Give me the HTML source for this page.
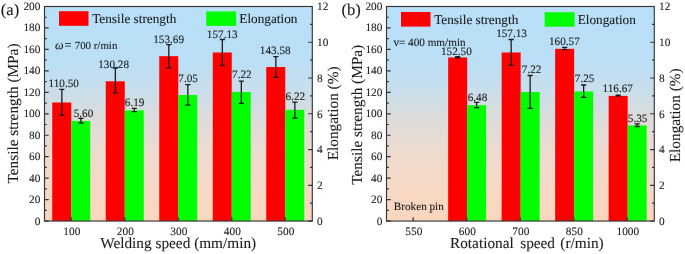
<!DOCTYPE html>
<html><head><meta charset="utf-8"><style>
html,body{margin:0;padding:0;background:#fff;}
body{width:685px;height:254px;overflow:hidden;}
svg{display:block;will-change:transform;}
text{text-rendering:geometricPrecision;}
text{font-family:'Liberation Serif', serif;fill:#1c1c1c;stroke:#1c1c1c;stroke-width:0.1px;}
.tk{font-size:11.3px;}
.vl{font-size:11.2px;}
.at{font-size:15.3px;}
.lg{font-size:13.25px;}
.pl{font-size:16.6px;}
</style></head><body>
<svg width="685" height="254" viewBox="0 0 685 254">
<defs><linearGradient id="bg" x1="0" y1="0" x2="0" y2="1"><stop offset="0.0" stop-color="rgb(184,224,249)"/><stop offset="0.25" stop-color="rgb(186,223,246)"/><stop offset="0.39" stop-color="rgb(200,222,236)"/><stop offset="0.5" stop-color="rgb(217,220,221)"/><stop offset="0.58" stop-color="rgb(228,219,214)"/><stop offset="0.72" stop-color="rgb(240,218,205)"/><stop offset="0.9" stop-color="rgb(248,215,194)"/><stop offset="1.0" stop-color="rgb(250,214,190)"/></linearGradient></defs>
<rect x="44.5" y="6.5" width="267.8" height="214.55" fill="url(#bg)"/>
<rect x="52.25" y="102.51" width="19.0" height="118.54" fill="#ff0000"/>
<rect x="71.25" y="120.93" width="19.0" height="100.12" fill="#00ff00"/>
<rect x="105.75" y="81.29" width="19.0" height="139.76" fill="#ff0000"/>
<rect x="124.75" y="110.38" width="19.0" height="110.67" fill="#00ff00"/>
<rect x="159.25" y="56.18" width="19.0" height="164.87" fill="#ff0000"/>
<rect x="178.25" y="95.00" width="19.0" height="126.05" fill="#00ff00"/>
<rect x="212.75" y="52.49" width="19.0" height="168.56" fill="#ff0000"/>
<rect x="231.75" y="91.96" width="19.0" height="129.09" fill="#00ff00"/>
<rect x="266.25" y="67.02" width="19.0" height="154.03" fill="#ff0000"/>
<rect x="285.25" y="109.84" width="19.0" height="111.21" fill="#00ff00"/>
<path d="M61.85 89.30V115.30M59.25 89.30h5.2M59.25 115.30h5.2" stroke="#1c1c1c" stroke-width="1.3" fill="none"/>
<path d="M80.85 118.30V123.00M78.25 118.30h5.2M78.25 123.00h5.2" stroke="#1c1c1c" stroke-width="1.3" fill="none"/>
<path d="M115.35 68.00V92.80M112.75 68.00h5.2M112.75 92.80h5.2" stroke="#1c1c1c" stroke-width="1.3" fill="none"/>
<path d="M134.35 108.40V111.70M131.75 108.40h5.2M131.75 111.70h5.2" stroke="#1c1c1c" stroke-width="1.3" fill="none"/>
<path d="M168.85 44.60V67.90M166.25 44.60h5.2M166.25 67.90h5.2" stroke="#1c1c1c" stroke-width="1.3" fill="none"/>
<path d="M187.85 84.60V105.20M185.25 84.60h5.2M185.25 105.20h5.2" stroke="#1c1c1c" stroke-width="1.3" fill="none"/>
<path d="M222.35 39.50V65.40M219.75 39.50h5.2M219.75 65.40h5.2" stroke="#1c1c1c" stroke-width="1.3" fill="none"/>
<path d="M241.35 81.10V103.40M238.75 81.10h5.2M238.75 103.40h5.2" stroke="#1c1c1c" stroke-width="1.3" fill="none"/>
<path d="M275.85 56.70V77.30M273.25 56.70h5.2M273.25 77.30h5.2" stroke="#1c1c1c" stroke-width="1.3" fill="none"/>
<path d="M294.85 102.10V118.10M292.25 102.10h5.2M292.25 118.10h5.2" stroke="#1c1c1c" stroke-width="1.3" fill="none"/>
<rect x="44.5" y="6.5" width="267.8" height="214.55" fill="none" stroke="#363636" stroke-width="1.15"/>
<path d="M44.50 221.05h4.2M44.50 210.32h2.3M44.50 199.60h4.2M44.50 188.87h2.3M44.50 178.14h4.2M44.50 167.41h2.3M44.50 156.69h4.2M44.50 145.96h2.3M44.50 135.23h4.2M44.50 124.50h2.3M44.50 113.78h4.2M44.50 103.05h2.3M44.50 92.32h4.2M44.50 81.59h2.3M44.50 70.87h4.2M44.50 60.14h2.3M44.50 49.41h4.2M44.50 38.68h2.3M44.50 27.96h4.2M44.50 17.23h2.3M44.50 6.50h4.2M312.30 221.05h-4.2M312.30 203.17h-2.3M312.30 185.29h-4.2M312.30 167.41h-2.3M312.30 149.53h-4.2M312.30 131.65h-2.3M312.30 113.77h-4.2M312.30 95.90h-2.3M312.30 78.02h-4.2M312.30 60.14h-2.3M312.30 42.26h-4.2M312.30 24.38h-2.3M312.30 6.50h-4.2M71.25 221.05v-3.9M124.75 221.05v-3.9M178.25 221.05v-3.9M231.75 221.05v-3.9M285.25 221.05v-3.9" stroke="#363636" stroke-width="1.2" fill="none"/>
<text x="40.40" y="224.55" text-anchor="end" class="tk">0</text>
<text x="40.40" y="203.10" text-anchor="end" class="tk">20</text>
<text x="40.40" y="181.64" text-anchor="end" class="tk">40</text>
<text x="40.40" y="160.19" text-anchor="end" class="tk">60</text>
<text x="40.40" y="138.73" text-anchor="end" class="tk">80</text>
<text x="40.40" y="117.28" text-anchor="end" class="tk">100</text>
<text x="40.40" y="95.82" text-anchor="end" class="tk">120</text>
<text x="40.40" y="74.37" text-anchor="end" class="tk">140</text>
<text x="40.40" y="52.91" text-anchor="end" class="tk">160</text>
<text x="40.40" y="31.46" text-anchor="end" class="tk">180</text>
<text x="40.40" y="10.00" text-anchor="end" class="tk">200</text>
<text x="317.00" y="224.95" class="tk">0</text>
<text x="317.00" y="189.19" class="tk">2</text>
<text x="317.00" y="153.43" class="tk">4</text>
<text x="317.00" y="117.67" class="tk">6</text>
<text x="317.00" y="81.92" class="tk">8</text>
<text x="317.00" y="46.16" class="tk">10</text>
<text x="317.00" y="10.40" class="tk">12</text>
<text x="71.85" y="234.5" text-anchor="middle" class="tk">100</text>
<text x="125.35" y="234.5" text-anchor="middle" class="tk">200</text>
<text x="178.85" y="234.5" text-anchor="middle" class="tk">300</text>
<text x="232.35" y="234.5" text-anchor="middle" class="tk">400</text>
<text x="285.85" y="234.5" text-anchor="middle" class="tk">500</text>
<text x="63.70" y="87.20" text-anchor="middle" class="vl">110.50</text>
<text x="83.45" y="116.80" text-anchor="middle" class="vl">5.60</text>
<text x="113.65" y="67.50" text-anchor="middle" class="vl">130.28</text>
<text x="134.60" y="106.40" text-anchor="middle" class="vl">6.19</text>
<text x="168.60" y="42.50" text-anchor="middle" class="vl">153.69</text>
<text x="188.15" y="82.30" text-anchor="middle" class="vl">7.05</text>
<text x="222.25" y="37.70" text-anchor="middle" class="vl">157.13</text>
<text x="241.90" y="77.50" text-anchor="middle" class="vl">7.22</text>
<text x="275.25" y="54.20" text-anchor="middle" class="vl">143.58</text>
<text x="295.30" y="99.80" text-anchor="middle" class="vl">6.22</text>
<text y="48.6" class="vl"><tspan x="55.0" font-style="italic" font-size="12.2px">ω</tspan><tspan x="64.6" font-size="12.4px">=</tspan><tspan x="74.7" font-size="10.9px">700 r/min</tspan></text>
<text x="178.20" y="248.4" text-anchor="middle" class="at">Welding speed (mm/min)</text>
<text transform="translate(18.00 113.50) rotate(-90)" text-anchor="middle" class="at">Tensile strength (MPa)</text>
<text transform="translate(337.70 113.4) rotate(-90)" text-anchor="middle" class="at">Elongation (%)</text>
<text x="0.80" y="14.5" class="pl">(a)</text>
<rect x="59" y="11.2" width="29.5" height="14.6" fill="#ff0000"/>
<text x="92.2" y="23.1" class="lg">Tensile strength</text>
<rect x="206.2" y="11.4" width="30" height="14.5" fill="#00ff00"/>
<text x="239.3" y="23.1" class="lg">Elongation</text>
<rect x="386.5" y="6.5" width="267.8" height="214.55" fill="url(#bg)"/>
<rect x="448.15" y="57.46" width="19.0" height="163.59" fill="#ff0000"/>
<rect x="467.15" y="105.19" width="19.0" height="115.86" fill="#00ff00"/>
<rect x="501.65" y="52.49" width="19.0" height="168.56" fill="#ff0000"/>
<rect x="520.65" y="91.96" width="19.0" height="129.09" fill="#00ff00"/>
<rect x="555.15" y="48.80" width="19.0" height="172.25" fill="#ff0000"/>
<rect x="574.15" y="91.43" width="19.0" height="129.62" fill="#00ff00"/>
<rect x="608.65" y="95.89" width="19.0" height="125.16" fill="#ff0000"/>
<rect x="627.65" y="125.40" width="19.0" height="95.65" fill="#00ff00"/>
<path d="M457.65 56.60V58.00M455.05 56.60h5.2M455.05 58.00h5.2" stroke="#1c1c1c" stroke-width="1.3" fill="none"/>
<path d="M476.65 102.30V107.70M474.05 102.30h5.2M474.05 107.70h5.2" stroke="#1c1c1c" stroke-width="1.3" fill="none"/>
<path d="M511.15 39.50V65.40M508.55 39.50h5.2M508.55 65.40h5.2" stroke="#1c1c1c" stroke-width="1.3" fill="none"/>
<path d="M530.15 75.50V108.40M527.55 75.50h5.2M527.55 108.40h5.2" stroke="#1c1c1c" stroke-width="1.3" fill="none"/>
<path d="M564.65 47.40V49.60M562.05 47.40h5.2M562.05 49.60h5.2" stroke="#1c1c1c" stroke-width="1.3" fill="none"/>
<path d="M583.65 85.00V97.40M581.05 85.00h5.2M581.05 97.40h5.2" stroke="#1c1c1c" stroke-width="1.3" fill="none"/>
<path d="M618.15 95.10V96.20M615.55 95.10h5.2M615.55 96.20h5.2" stroke="#1c1c1c" stroke-width="1.3" fill="none"/>
<path d="M637.15 123.90V126.50M634.55 123.90h5.2M634.55 126.50h5.2" stroke="#1c1c1c" stroke-width="1.3" fill="none"/>
<rect x="386.5" y="6.5" width="267.8" height="214.55" fill="none" stroke="#363636" stroke-width="1.15"/>
<path d="M386.50 221.05h4.2M386.50 210.32h2.3M386.50 199.60h4.2M386.50 188.87h2.3M386.50 178.14h4.2M386.50 167.41h2.3M386.50 156.69h4.2M386.50 145.96h2.3M386.50 135.23h4.2M386.50 124.50h2.3M386.50 113.78h4.2M386.50 103.05h2.3M386.50 92.32h4.2M386.50 81.59h2.3M386.50 70.87h4.2M386.50 60.14h2.3M386.50 49.41h4.2M386.50 38.68h2.3M386.50 27.96h4.2M386.50 17.23h2.3M386.50 6.50h4.2M654.30 221.05h-4.2M654.30 203.17h-2.3M654.30 185.29h-4.2M654.30 167.41h-2.3M654.30 149.53h-4.2M654.30 131.65h-2.3M654.30 113.77h-4.2M654.30 95.90h-2.3M654.30 78.02h-4.2M654.30 60.14h-2.3M654.30 42.26h-4.2M654.30 24.38h-2.3M654.30 6.50h-4.2M413.25 221.05v-3.9M466.75 221.05v-3.9M520.25 221.05v-3.9M573.75 221.05v-3.9M627.25 221.05v-3.9" stroke="#363636" stroke-width="1.2" fill="none"/>
<text x="382.40" y="224.55" text-anchor="end" class="tk">0</text>
<text x="382.40" y="203.10" text-anchor="end" class="tk">20</text>
<text x="382.40" y="181.64" text-anchor="end" class="tk">40</text>
<text x="382.40" y="160.19" text-anchor="end" class="tk">60</text>
<text x="382.40" y="138.73" text-anchor="end" class="tk">80</text>
<text x="382.40" y="117.28" text-anchor="end" class="tk">100</text>
<text x="382.40" y="95.82" text-anchor="end" class="tk">120</text>
<text x="382.40" y="74.37" text-anchor="end" class="tk">140</text>
<text x="382.40" y="52.91" text-anchor="end" class="tk">160</text>
<text x="382.40" y="31.46" text-anchor="end" class="tk">180</text>
<text x="382.40" y="10.00" text-anchor="end" class="tk">200</text>
<text x="659.00" y="224.95" class="tk">0</text>
<text x="659.00" y="189.19" class="tk">2</text>
<text x="659.00" y="153.43" class="tk">4</text>
<text x="659.00" y="117.67" class="tk">6</text>
<text x="659.00" y="81.92" class="tk">8</text>
<text x="659.00" y="46.16" class="tk">10</text>
<text x="659.00" y="10.40" class="tk">12</text>
<text x="413.85" y="234.5" text-anchor="middle" class="tk">550</text>
<text x="467.35" y="234.5" text-anchor="middle" class="tk">600</text>
<text x="520.85" y="234.5" text-anchor="middle" class="tk">700</text>
<text x="574.35" y="234.5" text-anchor="middle" class="tk">850</text>
<text x="627.85" y="234.5" text-anchor="middle" class="tk">1000</text>
<text x="456.35" y="54.60" text-anchor="middle" class="vl">152.50</text>
<text x="477.45" y="101.20" text-anchor="middle" class="vl">6.48</text>
<text x="511.55" y="37.00" text-anchor="middle" class="vl">157.13</text>
<text x="531.60" y="73.20" text-anchor="middle" class="vl">7.22</text>
<text x="564.35" y="44.80" text-anchor="middle" class="vl">160.57</text>
<text x="584.60" y="82.00" text-anchor="middle" class="vl">7.25</text>
<text x="617.75" y="92.30" text-anchor="middle" class="vl">116.67</text>
<text x="637.60" y="121.50" text-anchor="middle" class="vl">5.35</text>
<text x="393.4" y="45.5" class="vl">v= 400 mm/min</text><text x="393.8" y="210" class="vl">Broken pin</text>
<text x="450.0" y="248.4" class="at">Rotational<tspan x="520.2">speed</tspan><tspan x="560.3">(r/min)</tspan></text>
<text transform="translate(361.50 114.80) rotate(-90)" text-anchor="middle" class="at">Tensile strength (MPa)</text>
<text transform="translate(679.70 115.3) rotate(-90)" text-anchor="middle" class="at">Elongation (%)</text>
<text x="341.40" y="14.5" class="pl">(b)</text>
<rect x="401.0" y="12.0" width="29.5" height="14.6" fill="#ff0000"/>
<text x="434.2" y="23.900000000000002" class="lg">Tensile strength</text>
<rect x="544.6" y="12.200000000000001" width="30" height="14.5" fill="#00ff00"/>
<text x="577.6999999999999" y="23.900000000000002" class="lg">Elongation</text>
</svg>
</body></html>
